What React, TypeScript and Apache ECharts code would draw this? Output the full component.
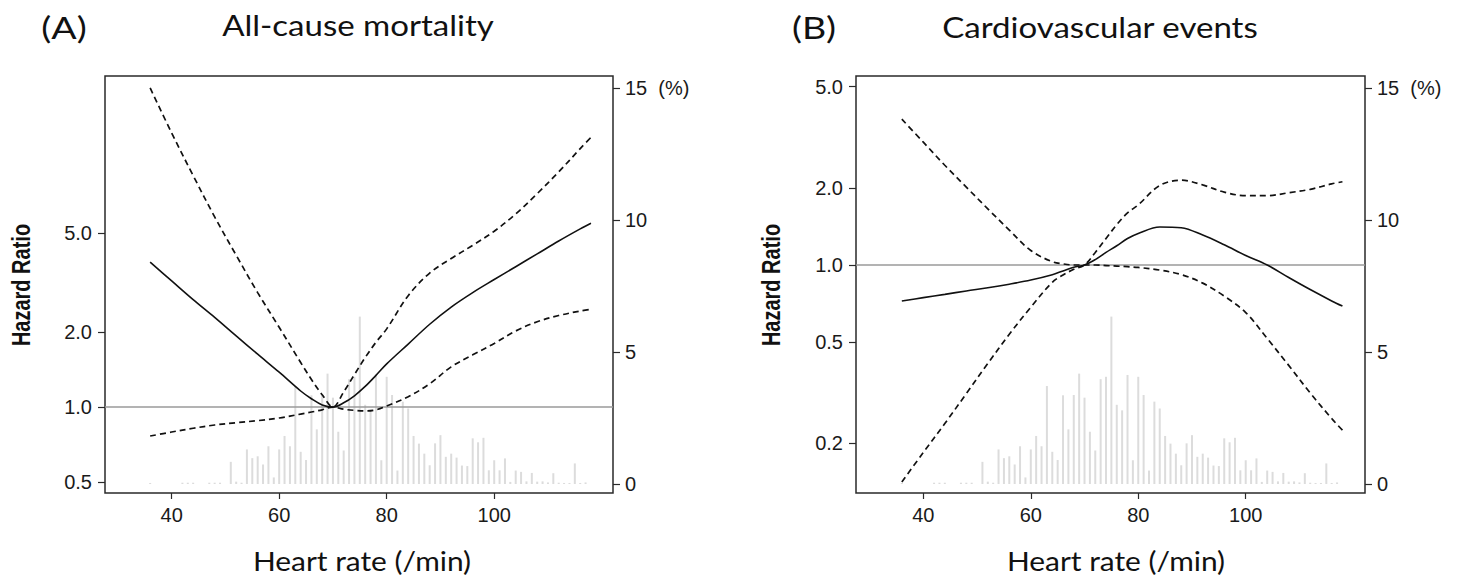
import React, { useEffect, useRef } from "react";
import * as echarts from "echarts";

// Histogram of heart rate distribution (% of patients), same in both panels
const histHR = [36, 42, 43, 44, 47, 48, 49, 51, 52, 53, 54, 55, 56, 57, 58, 59, 60, 61, 62, 63, 64, 65, 66, 67, 68, 69, 70, 71, 72, 73, 74, 75, 76, 77, 78, 79, 80, 81, 82, 83, 84, 85, 86, 87, 88, 89, 90, 91, 92, 93, 94, 95, 96, 97, 98, 99, 100, 101, 102, 103, 104, 105, 106, 107, 108, 109, 110, 111, 112, 113, 114, 115, 116, 117];
const histPct = [0.04, 0.05, 0.05, 0.05, 0.05, 0.05, 0.05, 0.84, 0.09, 0.05, 1.31, 0.98, 1.05, 0.74, 1.43, 0.25, 1.31, 1.82, 1.43, 3.71, 1.22, 0.91, 3.36, 2.07, 3.37, 4.18, 3.27, 1.98, 1.27, 3.97, 4.06, 6.34, 3.0, 2.79, 4.13, 0.9, 4.06, 3.37, 0.51, 3.12, 2.86, 1.82, 1.53, 1.15, 0.71, 1.54, 1.85, 1.03, 1.15, 1.0, 0.7, 0.68, 1.73, 1.58, 1.75, 0.52, 0.9, 0.52, 0.97, 0.08, 0.51, 0.46, 0.1, 0.42, 0.09, 0.1, 0.06, 0.41, 0.05, 0.04, 0.04, 0.78, 0.04, 0.06];

// Spline curves (hazard ratio) sampled at these heart rates
const curveHR = [36, 40, 44, 48, 52, 56, 60, 64, 66, 68, 70, 72, 74, 76, 78, 80, 84, 88, 92, 96, 100, 104, 108, 112, 116, 118];

// (A) All-cause mortality
const mortHR = [3.82, 3.21, 2.7, 2.29, 1.93, 1.63, 1.38, 1.16, 1.08, 1.02, 1.0, 1.04, 1.11, 1.21, 1.34, 1.49, 1.79, 2.15, 2.52, 2.88, 3.25, 3.66, 4.12, 4.64, 5.19, 5.47];
const mortUpper = [19.1, 12.6, 8.5, 5.8, 4.07, 2.88, 2.09, 1.51, 1.29, 1.12, 1.0, 1.15, 1.35, 1.58, 1.82, 2.06, 2.8, 3.45, 3.95, 4.46, 5.08, 5.96, 7.19, 8.79, 10.9, 12.1];
const mortLower = [0.765, 0.794, 0.822, 0.847, 0.865, 0.882, 0.904, 0.937, 0.955, 0.975, 1.0, 0.98, 0.97, 0.965, 0.975, 1.01, 1.1, 1.24, 1.45, 1.62, 1.8, 2.02, 2.2, 2.33, 2.43, 2.47];

// (B) Cardiovascular events
const cvHR = [0.722, 0.745, 0.767, 0.791, 0.814, 0.841, 0.873, 0.916, 0.948, 0.98, 1.0, 1.05, 1.12, 1.19, 1.27, 1.33, 1.41, 1.4, 1.31, 1.2, 1.09, 1.0, 0.893, 0.801, 0.723, 0.69];
const cvBand1 = [3.73, 3.03, 2.46, 2.02, 1.66, 1.37, 1.14, 1.03, 1.01, 1.0, 1.0, 1.0, 0.995, 0.99, 0.985, 0.978, 0.955, 0.917, 0.849, 0.755, 0.651, 0.515, 0.404, 0.315, 0.25, 0.225];
const cvBand2 = [0.141, 0.184, 0.239, 0.313, 0.411, 0.535, 0.683, 0.855, 0.914, 0.962, 1.0, 1.12, 1.27, 1.44, 1.6, 1.72, 2.05, 2.15, 2.06, 1.93, 1.87, 1.87, 1.92, 1.98, 2.08, 2.12];

const xTicks = [40, 60, 80, 100];
const hrTicksA = [0.5, 1.0, 2.0, 5.0];
const hrTicksB = [0.2, 0.5, 1.0, 2.0, 5.0];
const pctTicks = [0, 5, 10, 15];

const TICK_FONT = "'Liberation Sans', Arial, sans-serif";
const TITLE_FONT = "Lato, 'Noto Sans', sans-serif";

function logPts(vals: number[]) {
  return curveHR.map((h, i) => [h, Math.log10(vals[i])]);
}

function buildOption() {
  const histData = histHR.map((h, i) => [h, histPct[i]]);
  const gridBase = { show: true, borderColor: "#2a2a2a", borderWidth: 1.5, backgroundColor: "transparent" };
  const tickStyle = { show: true, length: 7, lineStyle: { color: "#2a2a2a", width: 1.2 } };
  const labelBase = { fontSize: 20, color: "#1a1a1a", fontFamily: TICK_FONT };

  const xAxisFor = (gridIndex: number, min: number, max: number) => ({
    type: "value",
    gridIndex,
    min,
    max,
    position: "bottom",
    axisLine: { show: false, onZero: false },
    axisTick: { ...tickStyle, length: 6, customValues: xTicks },
    axisLabel: { ...labelBase, margin: 12, customValues: xTicks },
    splitLine: { show: false },
  });

  const logAxisFor = (gridIndex: number, min: number, max: number, ticks: number[]) => {
    const lv = ticks.map((t) => Math.log10(t));
    return {
      type: "value",
      gridIndex,
      position: "left",
      min,
      max,
      axisLine: { show: false, onZero: false },
      axisTick: { ...tickStyle, customValues: lv },
      axisLabel: {
        ...labelBase,
        margin: 13,
        customValues: lv,
        formatter: (v: number) => Math.pow(10, v).toFixed(1),
      },
      splitLine: { show: false },
    };
  };

  const pctAxisFor = (gridIndex: number) => ({
    type: "value",
    gridIndex,
    position: "right",
    min: -0.34,
    max: 15.45,
    axisLine: { show: false, onZero: false },
    axisTick: { ...tickStyle, customValues: pctTicks },
    axisLabel: {
      ...labelBase,
      margin: 12,
      customValues: pctTicks,
      formatter: (v: number) => (Math.abs(v - 15) < 1e-6 ? "15  (%)" : String(Math.round(v))),
    },
    splitLine: { show: false },
  });

  const refLine = {
    silent: true,
    symbol: ["none", "none"],
    label: { show: false },
    lineStyle: { color: "#9a9a9a", width: 1.6, type: "solid" },
    data: [{ yAxis: 0 }],
  };

  const curve = (name: string, xi: number, yi: number, vals: number[], dashed: boolean, withRef = false) => ({
    name,
    type: "line",
    xAxisIndex: xi,
    yAxisIndex: yi,
    data: logPts(vals),
    symbol: "none",
    smooth: 0.35,
    z: 5,
    lineStyle: { color: "#111", width: dashed ? 1.7 : 1.6, type: dashed ? [6, 4] : "solid" },
    ...(withRef ? { markLine: refLine } : {}),
  });

  const hist = (xi: number, yi: number) => ({
    name: "Distribution",
    type: "bar",
    xAxisIndex: xi,
    yAxisIndex: yi,
    data: histData,
    barWidth: 2,
    itemStyle: { color: "#dcdcdc" },
    z: 1,
  });

  const txt = (text: string, x: number, y: number, size: number, opts: any = {}) => ({
    type: "text",
    x,
    y,
    scaleX: opts.scaleX ?? 1,
    scaleY: opts.scaleY ?? 1,
    rotation: opts.rotation ?? 0,
    style: {
      text,
      fontSize: size,
      fontFamily: opts.font ?? TITLE_FONT,
      fontWeight: opts.bold ? "bold" : "normal",
      fill: "#111",
      textAlign: "center",
      textVerticalAlign: "middle",
    },
  });

  return {
    animation: false,
    backgroundColor: "#ffffff",
    grid: [
      { ...gridBase, left: 105, top: 76, width: 508, height: 417 },
      { ...gridBase, left: 856, top: 76, width: 509, height: 417 },
    ],
    xAxis: [xAxisFor(0, 27.6, 122.1), xAxisFor(1, 27.47, 122.2)],
    yAxis: [
      logAxisFor(0, -0.345, 1.329, hrTicksA),
      pctAxisFor(0),
      logAxisFor(1, -0.894, 0.741, hrTicksB),
      pctAxisFor(1),
    ],
    series: [
      hist(0, 1),
      curve("HR (A)", 0, 0, mortHR, false, true),
      curve("Upper 95% CI (A)", 0, 0, mortUpper, true),
      curve("Lower 95% CI (A)", 0, 0, mortLower, true),
      hist(1, 3),
      curve("HR (B)", 1, 2, cvHR, false, true),
      curve("95% CI (B) 1", 1, 2, cvBand1, true),
      curve("95% CI (B) 2", 1, 2, cvBand2, true),
    ],
    graphic: [
      txt("(A)", 64, 27, 30, { scaleX: 1.25 }),
      txt("All-cause mortality", 358, 25, 28, { scaleX: 1.18 }),
      txt("(B)", 814, 27, 30, { scaleX: 1.25 }),
      txt("Cardiovascular events", 1100, 27, 28, { scaleX: 1.18 }),
      txt("Heart rate (/min)", 362, 561, 26, { scaleX: 1.15 }),
      txt("Heart rate (/min)", 1116, 561, 26, { scaleX: 1.15 }),
      txt("Hazard Ratio", 22, 285, 20, { rotation: Math.PI / 2, bold: true, font: TICK_FONT, scaleY: 1.25 }),
      txt("Hazard Ratio", 772, 285, 20, { rotation: Math.PI / 2, bold: true, font: TICK_FONT, scaleY: 1.25 }),
    ],
  };
}

export default function App() {
  const ref = useRef<HTMLDivElement>(null);
  useEffect(() => {
    if (!ref.current) return;
    const chart = echarts.init(ref.current, undefined, { renderer: "svg" });
    chart.setOption(buildOption() as any);
    return () => chart.dispose();
  }, []);
  return (
    <div
      ref={ref}
      style={{ position: "absolute", left: 0, top: 0, width: 1465, height: 580, background: "#fff" }}
    />
  );
}
